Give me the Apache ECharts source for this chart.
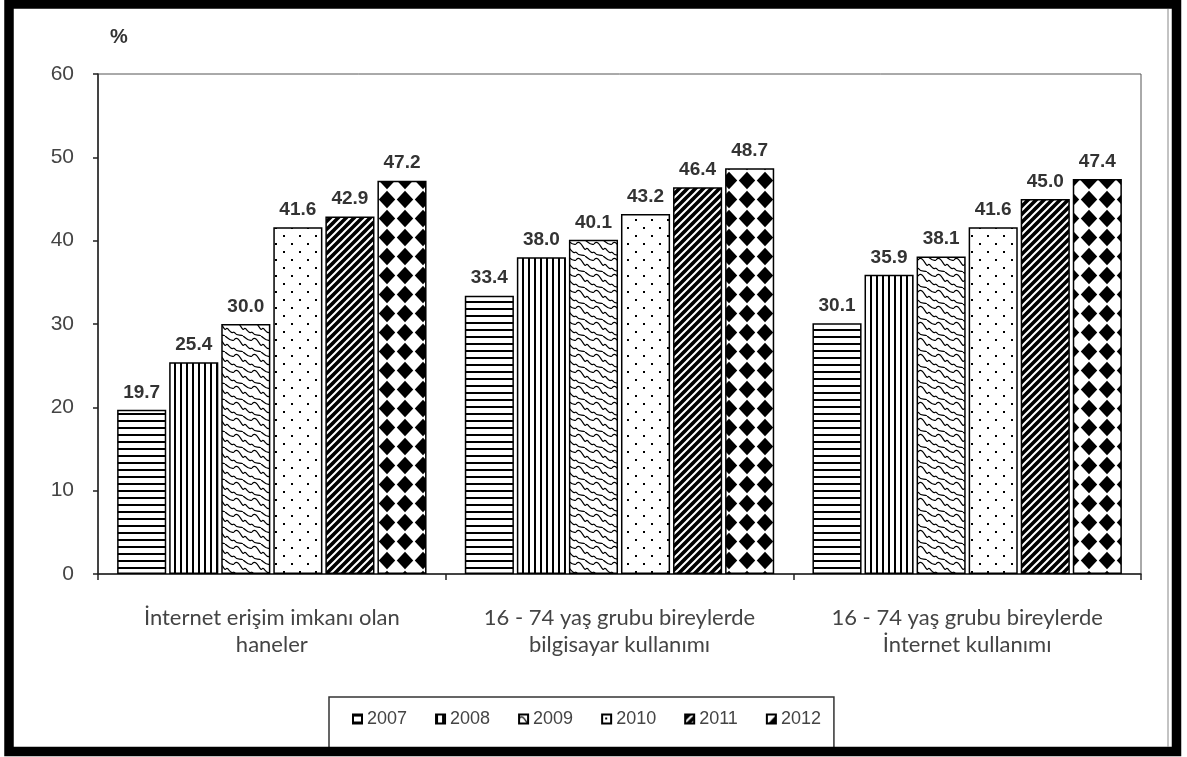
<!DOCTYPE html>
<html>
<head>
<meta charset="utf-8">
<script src="https://cdn.jsdelivr.net/npm/echarts@6/dist/echarts.min.js"></script>
<style>
  html, body { margin: 0; padding: 0; background: #fff; }
  #chart { width: 1187px; height: 757px; }
</style>
</head>
<body>
<div id="chart"></div>
<script>
// Veriler
const categories = [
    'İnternet erişim imkanı olan\nhaneler',
    '16 - 74 yaş grubu bireylerde\nbilgisayar kullanımı',
    '16 - 74 yaş grubu bireylerde\nİnternet kullanımı'
];
const years = ['2007', '2008', '2009', '2010', '2011', '2012'];
const values2007 = [19.7, 33.4, 30.1];
const values2008 = [25.4, 38.0, 35.9];
const values2009 = [30.0, 40.1, 38.1];
const values2010 = [41.6, 43.2, 41.6];
const values2011 = [42.9, 46.4, 45.0];
const values2012 = [47.2, 48.7, 47.4];
const yTicks = [0, 10, 20, 30, 40, 50, 60];

const seriesValues = [values2007, values2008, values2009, values2010, values2011, values2012];

// Desen döşemeleri (tile) canvas ile çiziliyor
function makeTile(w, h, draw) {
    const c = document.createElement('canvas');
    c.width = w;
    c.height = h;
    const ctx = c.getContext('2d');
    ctx.fillStyle = '#fff';
    ctx.fillRect(0, 0, w, h);
    ctx.fillStyle = '#000';
    ctx.strokeStyle = '#000';
    draw(ctx, w, h);
    return { image: c, repeat: 'repeat' };
}

function diamond(ctx, cx, cy, rx, ry) {
    ctx.beginPath();
    ctx.moveTo(cx, cy - ry);
    ctx.lineTo(cx + rx, cy);
    ctx.lineTo(cx, cy + ry);
    ctx.lineTo(cx - rx, cy);
    ctx.closePath();
    ctx.fill();
}

const patterns = [
    // 2007 yatay çizgiler
    makeTile(8, 7, function (ctx, w) {
        ctx.fillRect(0, 0, w, 2);
    }),
    // 2008 dikey çizgiler
    makeTile(6, 8, function (ctx, w, h) {
        ctx.fillRect(0, 0, 2, h);
    }),
    // 2009 dalgalı (pul) desen
    makeTile(18, 16, function (ctx) {
        ctx.lineWidth = 1.2;
        ctx.beginPath();
        ctx.moveTo(0, 4);
        ctx.bezierCurveTo(5, -2, 8, 12, 10, 9);
        ctx.bezierCurveTo(12, 6, 14, 15, 18, 12);
        ctx.moveTo(0, 12);
        ctx.bezierCurveTo(3, 17, 6, 14, 9, 16);
        ctx.moveTo(9, 0);
        ctx.bezierCurveTo(12, 2, 15, 6, 18, 4);
        ctx.stroke();
    }),
    // 2010 seyrek noktalar
    makeTile(16, 16, function (ctx) {
        ctx.fillRect(3, 3, 2, 2);
        ctx.fillRect(11, 11, 2, 2);
    }),
    // 2011 kalın çapraz çizgiler
    makeTile(8, 8, function (ctx) {
        ctx.fillStyle = '#000';
        ctx.fillRect(0, 0, 8, 8);
        ctx.strokeStyle = '#fff';
        ctx.lineWidth = 2;
        ctx.beginPath();
        ctx.moveTo(-2, 10);
        ctx.lineTo(10, -2);
        ctx.moveTo(-6, 6);
        ctx.lineTo(6, -6);
        ctx.moveTo(2, 14);
        ctx.lineTo(14, 2);
        ctx.stroke();
    }),
    // 2012 elmas desen
    makeTile(18, 19, function (ctx) {
        diamond(ctx, 9, 9.5, 8.2, 8.7);
    })
];

const series = years.map(function (year, i) {
    return {
        name: year,
        type: 'bar',
        data: seriesValues[i],
        barGap: '6%',
        barCategoryGap: '11%',
        itemStyle: {
            color: patterns[i],
            borderColor: '#000',
            borderWidth: 1.5
        },
        label: {
            show: true,
            position: 'top',
            distance: 8,
            color: '#333',
            fontFamily: 'Liberation Sans, Arial, sans-serif',
            fontWeight: 'bold',
            fontSize: 19,
            formatter: function (p) {
                return p.value.toFixed(1);
            }
        }
    };
});

const chart = echarts.init(document.getElementById('chart'), null, { renderer: 'canvas' });

chart.setOption({
    animation: false,
    backgroundColor: '#fff',
    grid: {
        left: 98,
        right: 46,
        top: 74,
        bottom: 183,
        show: true,
        borderColor: '#555',
        borderWidth: 1
    },
    legend: {
        data: years,
        left: 329,
        top: 697,
        icon: 'rect',
        itemWidth: 9,
        itemHeight: 9,
        itemGap: 28,
        padding: [13, 13, 20, 23],
        borderColor: '#333',
        borderWidth: 1.5,
        backgroundColor: '#fff',
        textStyle: {
            color: '#444',
            fontFamily: 'Liberation Sans, Arial, sans-serif',
            fontSize: 18
        }
    },
    xAxis: {
        type: 'category',
        data: categories,
        axisLine: { lineStyle: { color: '#222', width: 1.5 } },
        axisTick: { show: true, length: 6, lineStyle: { color: '#222', width: 1.5 } },
        axisLabel: {
            interval: 0,
            color: '#444',
            fontFamily: 'Lato, sans-serif',
            fontSize: 22,
            lineHeight: 27,
            margin: 30
        }
    },
    yAxis: {
        type: 'value',
        min: yTicks[0],
        max: yTicks[yTicks.length - 1],
        interval: 10,
        axisLine: { show: true, lineStyle: { color: '#222', width: 1.5 } },
        axisTick: { show: true, length: 5, lineStyle: { color: '#222', width: 1.5 } },
        splitLine: { show: false },
        axisLabel: {
            color: '#444',
            fontFamily: 'Liberation Sans, Arial, sans-serif',
            fontSize: 21,
            margin: 24
        }
    },
    graphic: [
        {
            type: 'text',
            left: 110,
            top: 27,
            style: {
                text: '%',
                fill: '#333',
                font: 'bold 20px Liberation Sans, Arial, sans-serif'
            }
        },
        {
            type: 'rect',
            shape: { x: 9, y: 4, width: 1167.5, height: 747.5 },
            style: { fill: 'none', stroke: '#000', lineWidth: 9.5 },
            z: 100
        },
        {
            type: 'line',
            shape: { x1: 1168, y1: 9, x2: 1168, y2: 747 },
            style: { stroke: '#888', lineWidth: 1 },
            z: 100
        }
    ],
    series: series
});
</script>
</body>
</html>
